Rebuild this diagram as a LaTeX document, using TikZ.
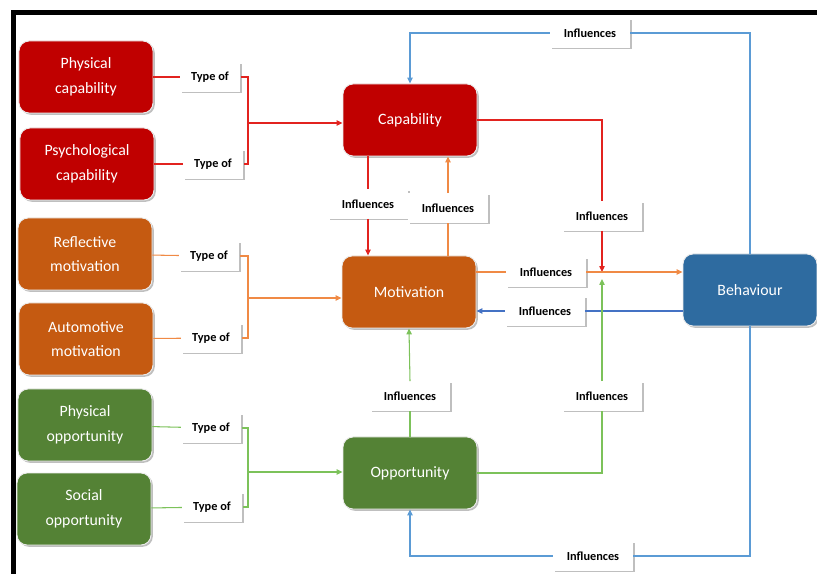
\documentclass[tikz,border=0pt]{standalone}
\usepackage{fontspec}
\setmainfont{Carlito}
\usetikzlibrary{arrows.meta,shadows}

\definecolor{capred}{HTML}{C00000}
\definecolor{motorange}{HTML}{C55A11}
\definecolor{oppgreen}{HTML}{548235}
\definecolor{behblue}{HTML}{2E6BA0}
\definecolor{redline}{HTML}{E2231F}
\definecolor{orangeline}{HTML}{F08A45}
\definecolor{greenline}{HTML}{7CC25A}
\definecolor{blueline}{HTML}{5B9BD5}
\definecolor{darkblueline}{HTML}{4472C4}

\tikzset{
  box/.style={rounded corners=3mm, minimum width=40.2mm, minimum height=21.6mm,
    text=white, align=center, font=\fontsize{13.5}{21}\selectfont,
    draw=white!85!gray, line width=0.8pt,
    drop shadow={shadow xshift=1.5pt, shadow yshift=-1.5pt, opacity=0.25, fill=black}},
  tag/.style={fill=white, text=black, font=\bfseries\fontsize{10.5}{12}\selectfont,
    minimum width=18mm, minimum height=8.8mm, inner sep=1pt,
    drop shadow={shadow xshift=1.5pt, shadow yshift=-1.5pt, opacity=0.25, fill=black}},
  inftag/.style={tag, minimum width=24mm},
  link/.style={line width=0.9pt},
  arr/.style={link, -{Triangle[length=5pt,width=4.5pt]}}
}

\begin{document}
\begin{tikzpicture}[x=0.3mm,y=-0.3mm]
\useasboundingbox (0,0) rectangle (817,574);
% frame
\draw[line width=1.5mm] (13,574) -- (13,13) -- (817,13);

% sources
\node[box,fill=capred] (physcap) at (86,77) {Physical\\capability};
\node[box,fill=capred] (psycap) at (87,164) {Psychological\\capability};
\node[box,fill=motorange] (reflmot) at (85,254) {Reflective\\motivation};
\node[box,fill=motorange] (automot) at (86,339) {Automotive\\motivation};
\node[box,fill=oppgreen] (physopp) at (85,425) {Physical\\opportunity};
\node[box,fill=oppgreen] (socopp) at (84,509) {Social\\opportunity};

% main blocks
\node[box,fill=capred] (capability) at (410,120) {Capability};
\node[box,fill=motorange] (motivation) at (409,292) {Motivation};
\node[box,fill=oppgreen] (opportunity) at (410,473) {Opportunity};
\node[box,fill=behblue] (behaviour) at (750,290) {Behaviour};

\coordinate (capjoin) at (248,123);
\coordinate (motjoin) at (248,298);
\coordinate (oppjoin) at (248,472);
\coordinate (meet) at (602,272);
\coordinate (meetlow) at (602,279);

% type of links
\draw[link,redline] (physcap) -- (210,77) node[tag] (type1) {Type of};
\draw[link,redline] (psycap) -- (213,164) node[tag] (type2) {Type of};
\draw[link,redline] (type1.east) -| (capjoin) |- (type2.east);
\draw[arr,redline] (capjoin) -- (capjoin -| capability.west);

\draw[link,orangeline] (reflmot) -- (209,256) node[tag] (type3) {Type of};
\draw[link,orangeline] (automot) -- (211,338) node[tag] (type4) {Type of};
\draw[link,orangeline] (type3.east) -| (motjoin) |- (type4.east);
\draw[arr,orangeline] (motjoin) -- (motjoin -| motivation.west);

\draw[link,greenline] (physopp) -- (211,428) node[tag] (type5) {Type of};
\draw[link,greenline] (socopp) -- (212,507) node[tag] (type6) {Type of};
\draw[link,greenline] (type5.east) -| (oppjoin) |- (type6.east);
\draw[arr,greenline] (oppjoin) -- (oppjoin -| opportunity.west);

% influences
\node[inftag] (topinf) at (590,33) {Influences};
\node[inftag] (botinf) at (593,556) {Influences};
\draw[link,blueline] (behaviour.north) |- (topinf.east);
\draw[arr,blueline] (topinf.west) -| (capability.north);
\draw[link,blueline] (behaviour.south) |- (botinf.east);
\draw[arr,blueline] (botinf.west) -| (opportunity.south);

\node[inftag] (capmot) at (368,204) {Influences};
\draw[link,redline] (capability.south -| capmot) -- (capmot);
\draw[arr,redline] (capmot.south) -- (capmot |- motivation.north);
\node[inftag] (motcap) at (448,208) {Influences};
\draw[link,orangeline] (motivation.north -| motcap) -- (motcap.south);
\draw[arr,orangeline] (motcap.north) -- (capability.south -| motcap);

\node[inftag] (capbeh) at (602,216) {Influences};
\draw[link,redline] (capability.east) -| (capbeh.north);
\draw[arr,redline] (capbeh.south) -- (meet);

\node[inftag] (motbeh) at (546,272) {Influences};
\draw[link,orangeline] (meet -| motivation.east) -- (motbeh.west);
\draw[arr,orangeline] (motbeh.east) -- (meet -| behaviour.west);

\node[inftag] (behmot) at (545,311) {Influences};
\draw[link,darkblueline] (behmot -| behaviour.west) -- (behmot.east);
\draw[arr,darkblueline] (behmot.west) -- (behmot -| motivation.east);

\node[inftag] (oppmot) at (410,396) {Influences};
\draw[link,greenline] (opportunity.north) -- (oppmot.south);
\draw[arr,greenline] (oppmot.north) -- (motivation.south);

\node[inftag] (oppbeh) at (602,396) {Influences};
\draw[link,greenline] (opportunity.east) -| (oppbeh.south);
\draw[arr,greenline] (oppbeh.north) -- (meetlow);
\end{tikzpicture}
\end{document}
